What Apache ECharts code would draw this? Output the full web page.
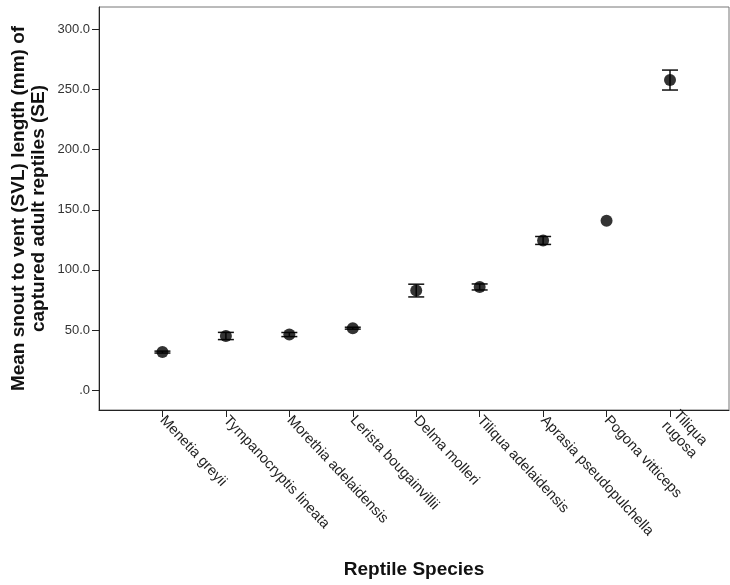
<!DOCTYPE html>
<html>
<head>
<meta charset="utf-8">
<script src="https://cdn.jsdelivr.net/npm/echarts@6/dist/echarts.min.js"></script>
<style>
  html, body { margin: 0; padding: 0; background: #fff; }
  #chart { width: 730px; height: 585px; }
</style>
</head>
<body>
<div id="chart"></div>
<script>
  // values
  const species = [
    "Menetia greyii",
    "Tympanocryptis lineata",
    "Morethia adelaidensis",
    "Lerista bougainvillii",
    "Delma molleri",
    "Tiliqua adelaidensis",
    "Aprasia pseudopulchella",
    "Pogona vitticeps",
    "Tiliqua\nrugosa"
  ];
  const meanSvl = [31.6, 45.0, 46.2, 51.5, 82.8, 85.8, 124.5, 140.9, 258.0];
  const seSvl = [0.8, 3.0, 1.7, 0.8, 5.3, 2.5, 3.3, null, 8.3];
  const yTicks = [0, 50, 100, 150, 200, 250, 300];
  const xTicks = species.map((_, i) => i);

  const font = "'Liberation Sans', Arial, sans-serif";
  const points = meanSvl.map((v, i) => [i, v]);
  const bars = meanSvl
    .map((v, i) => [i, v, seSvl[i]])
    .filter((d) => d[2] != null);

  const chart = echarts.init(document.getElementById("chart"), null, { renderer: "canvas" });
  chart.setOption({
    animation: false,
    backgroundColor: "#fff",
    grid: {
      left: 99, right: 1, top: 7, bottom: 175,
      outerBoundsMode: "none",
      containLabel: false,
      show: true, borderColor: "#777", borderWidth: 1
    },
    xAxis: {
      type: "value",
      min: -1,
      max: 8.93,
      splitLine: { show: false },
      axisLine: { onZero: false, lineStyle: { color: "#222", width: 1 } },
      axisTick: {
        show: true, length: 7, customValues: xTicks,
        lineStyle: { color: "#222" }
      },
      axisLabel: {
        customValues: xTicks,
        rotate: -47,
        margin: 8,
        fontFamily: font,
        fontSize: 14.5,
        color: "#222",
        lineHeight: 16,
        formatter: (v) => species[Math.round(v)] || ""
      },
      name: "Reptile Species",
      nameLocation: "middle",
      nameGap: 150,
      nameMoveOverlap: false,
      nameTextStyle: { fontFamily: font, fontSize: 19, fontWeight: "bold", color: "#111" }
    },
    yAxis: {
      type: "value",
      min: -16.6,
      max: 318.8,
      splitLine: { show: false },
      axisLine: { show: true, onZero: false, lineStyle: { color: "#222", width: 1 } },
      axisTick: {
        show: true, length: 7, customValues: yTicks,
        lineStyle: { color: "#222" }
      },
      axisLabel: {
        customValues: yTicks,
        margin: 9,
        fontFamily: font,
        fontSize: 13,
        color: "#333",
        formatter: (v) => (v === 0 ? ".0" : v.toFixed(1))
      },
      name: "Mean snout to vent (SVL) length (mm) of\ncaptured adult reptiles (SE)",
      nameLocation: "middle",
      nameGap: 50,
      nameMoveOverlap: false,
      nameRotate: 90,
      nameTextStyle: {
        fontFamily: font, fontSize: 19, fontWeight: "bold", color: "#111",
        lineHeight: 20, align: "center"
      }
    },
    series: [
      {
        type: "custom",
        data: bars,
        z: 3,
        renderItem(params, api) {
          const x = api.value(0);
          const m = api.value(1);
          const se = api.value(2);
          const hi = api.coord([x, m + se]);
          const lo = api.coord([x, m - se]);
          const half = 8;
          const style = { stroke: "#111", lineWidth: 1.5 };
          return {
            type: "group",
            children: [
              { type: "line", shape: { x1: hi[0], y1: hi[1], x2: lo[0], y2: lo[1] }, style },
              { type: "line", shape: { x1: hi[0] - half, y1: hi[1], x2: hi[0] + half, y2: hi[1] }, style },
              { type: "line", shape: { x1: lo[0] - half, y1: lo[1], x2: lo[0] + half, y2: lo[1] }, style }
            ]
          };
        }
      },
      {
        type: "scatter",
        data: points,
        symbol: "circle",
        symbolSize: 12,
        z: 4,
        itemStyle: { color: "#000" }
      }
    ]
  });
</script>
</body>
</html>
